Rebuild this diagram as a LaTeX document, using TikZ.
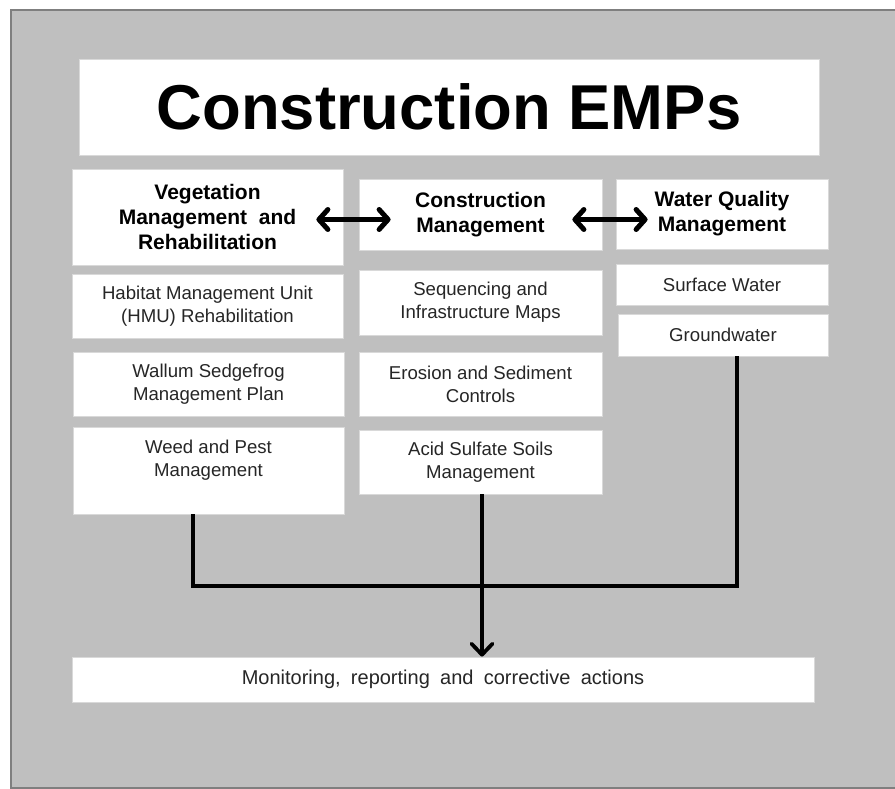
\documentclass[tikz,border=0pt]{standalone}
\usepackage{fontspec}
\setmainfont{Liberation Sans}
\newfontfamily\widefont{Liberation Sans}[WordSpace=1.85]
\usetikzlibrary{arrows.meta,calc}
\definecolor{panel}{HTML}{BFBFBF}
\definecolor{rim}{HTML}{7F7F7F}
\definecolor{edge}{HTML}{D9D9D9}
\definecolor{ink}{HTML}{262626}
\tikzset{
  box/.style={fill=white, draw=edge, line width=0.8pt, inner sep=0pt, align=center},
  head/.style={box, font=\fontsize{21}{25}\selectfont\bfseries, text=black},
  item/.style={box, font=\fontsize{18.6}{23}\selectfont, text=ink},
  link/.style={line width=3.5pt},
  both/.style={line width=5pt, {Straight Barb[length=9pt,width=20pt,round]}-{Straight Barb[length=9pt,width=20pt,round]}},
  down/.style={line width=3.8pt, -{Straight Barb[length=11pt,width=21pt,round]}},
}
\begin{document}
\begin{tikzpicture}[x=1pt, y=-1pt, line join=miter]
  \useasboundingbox (0,0) rectangle (895,789);
  % grey panel
  \draw[fill=panel, draw=rim, line width=2pt] (11,10) rectangle (905,788);

  % title
  \node (title) [box, minimum width=740pt, minimum height=96pt, font=\fontsize{63.4}{70}\selectfont\bfseries] at (449,107) {Construction EMPs};

  % headers
  \node (veg) [head, minimum width=271pt, minimum height=96pt] at (207.5,217) {Vegetation\\Management\ \ and\\Rehabilitation};
  \node (con) [head, minimum width=243pt, minimum height=71pt] at (480.5,214.5) {Construction\\Management};
  \node (wq) [head, minimum width=212pt, minimum height=70pt] at (722,214) {Water Quality\\Management};

  % vegetation column
  \node (hmu) [item, minimum width=271pt, minimum height=64pt] at (207.5,306) {Habitat Management Unit\\(HMU) Rehabilitation};
  \node (frog) [item, minimum width=271pt, minimum height=64pt] at (208.5,384) {Wallum Sedgefrog\\Management Plan};
  \node (weed) [item, minimum width=271pt, minimum height=87pt] at (208.5,470.5) {};
  \node (weedtxt) [font=\fontsize{18.6}{23}\selectfont, text=ink, align=center, inner sep=0pt] at (208.5,460) {Weed and Pest\\Management};

  % construction column
  \node (seq) [item, minimum width=243pt, minimum height=65pt] at (480.5,302.5) {Sequencing and\\Infrastructure Maps};
  \node (ero) [item, minimum width=243pt, minimum height=64pt] at (480.5,384) {Erosion and Sediment\\Controls};
  \node (acid) [item, minimum width=243pt, minimum height=64pt] at (480.5,462) {Acid Sulfate Soils\\Management};

  % water column
  \node (sw) [item, minimum width=212pt, minimum height=41pt] at (722,284.5) {Surface Water};
  \node (gw) [item, minimum width=210pt, minimum height=42pt] at (723,335) {Groundwater};

  % monitoring
  \node (mon) [item, minimum width=742pt, minimum height=45pt, font=\fontsize{20}{24}\selectfont\widefont] at (443,679.5) {Monitoring, reporting and corrective actions};

  % links between headers
  \draw[both] ($(veg.east|-con.west)+(-27,5)$) -- ($(con.west)+(32,5)$);
  \draw[both] ($(con.east)+(-30,5)$) -- ($(wq.west|-con.east)+(32,5)$);

  % collecting lines
  \coordinate (jl) at (193,586);
  \coordinate (jr) at (737,586);
  \draw[link] (weed.south-|jl) -- (jl) -- (jr) -- (gw.south-|jr);
  \draw[down] ($(acid.south)+(1.5,0)$) -- ($(acid.south|-mon.north)+(1.5,0)$);
\end{tikzpicture}
\end{document}
